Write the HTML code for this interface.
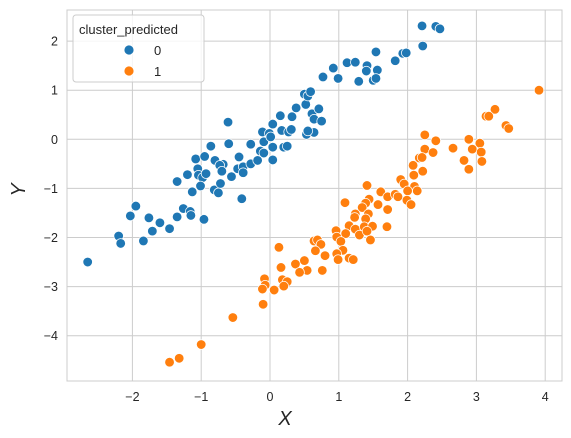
<!DOCTYPE html>
<html><head><meta charset="utf-8">
<style>
body{margin:0;background:#fff;}
svg{display:block;font-family:"Liberation Sans","DejaVu Sans",sans-serif;}
</style></head>
<body>
<svg id="chart" width="571" height="438" viewBox="0 0 571 438" xmlns="http://www.w3.org/2000/svg">
<rect x="0" y="0" width="571" height="438" fill="#fff"/>
<g id="grid"></g>
<rect x="67" y="10" width="495" height="371" fill="none" stroke="#cccccc" stroke-width="1"/>
<g id="ticks"></g>
<g id="points"></g>
<text x="285" y="425" font-size="20" font-style="italic" text-anchor="middle" fill="#262626">X</text>
<text x="0" y="0" font-size="20" font-style="italic" text-anchor="middle" fill="#262626" transform="translate(25,190) rotate(-90)">Y</text>
<g>
<rect x="73" y="15" width="131" height="67" rx="3" fill="#fff" fill-opacity="0.8" stroke="#cccccc"/>
<text x="79" y="34" font-size="13" fill="#262626">cluster_predicted</text>
<g><circle cx="129" cy="50" r="5" fill="#1f77b4" stroke="#fff" stroke-width="0.8"/><text x="154" y="55" font-size="13" fill="#262626">0</text></g>
<g><circle cx="129" cy="71" r="5" fill="#ff7f0e" stroke="#fff" stroke-width="0.8"/><text x="154" y="76" font-size="13" fill="#262626">1</text></g>
</g>
</svg>
<script>
const xTicks = [-2,-1,0,1,2,3,4];
const yTicks = [2,1,0,-1,-2,-3,-4];
const tickLabelsX = ["\u22122","\u22121","0","1","2","3","4"];
const tickLabelsY = ["2","1","0","\u22121","\u22122","\u22123","\u22124"];
const cluster0X = [-2.65,-2.2,-2.17,-1.95,-2.03,-1.84,-1.76,-1.71,-1.6,-1.46,-1.35,-1.26,-1.16,-1.15,-0.96,-1.35,-1.2,-1.13,-1.08,-1.05,-1.04,-0.98,-0.93,-1.01,-0.95,-0.86,-0.81,-0.75,-0.72,-0.8,-0.68,-0.73,-0.7,-0.56,-0.61,-0.6,-0.45,-0.47,-0.39,-0.39,-0.41,-0.28,-0.28,-0.18,-0.14,-0.09,-0.09,-0.11,-0.01,0.04,0.04,0.01,0.04,0.15,0.17,0.27,0.31,0.2,0.25,0.32,0.38,0.52,0.5,0.55,0.59,0.61,0.64,0.53,0.64,0.71,0.75,0.55,0.77,0.92,0.99,1.12,1.24,1.41,1.4,1.56,1.29,1.5,1.54,1.54,1.82,1.93,1.98,2.21,2.41,2.47,2.22];
const cluster0Y = [-2.5,-1.97,-2.12,-1.36,-1.56,-2.07,-1.6,-1.87,-1.7,-1.82,-1.58,-1.41,-1.47,-1.55,-1.63,-0.86,-0.72,-1.07,-0.4,-0.6,-0.73,-0.78,-0.7,-0.95,-0.35,-0.14,-1.03,-1.09,-0.9,-0.43,-0.51,-0.53,-0.65,-0.76,0.35,-0.09,-0.36,-0.6,-0.56,-0.68,-1.21,-0.1,-0.5,-0.43,-0.24,-0.28,-0.05,0.15,0.12,-0.16,-0.42,0.05,0.31,0.48,0.18,0.15,0.2,-0.16,-0.14,0.46,0.64,0.71,0.92,0.88,0.97,0.52,0.41,0.1,0.14,0.62,0.37,0.17,1.27,1.45,1.24,1.56,1.57,1.5,1.39,1.41,1.18,1.2,1.24,1.78,1.6,1.75,1.76,2.31,2.3,2.25,1.9];
const cluster1X = [3.91,3.27,3.14,3.18,3.43,3.47,2.25,2.41,2.89,3.05,2.66,2.94,2.25,2.37,3.07,2.17,2.21,2.82,3.08,2.08,2.89,2.22,2.09,1.9,1.95,1.41,2.1,2.14,2.0,1.61,1.71,1.82,1.86,1.99,2.05,1.09,1.44,1.39,1.34,1.57,1.71,1.24,1.23,1.43,1.39,1.15,1.24,1.37,1.49,1.7,0.96,1.1,1.3,1.41,0.97,1.03,1.46,0.64,0.69,0.74,0.66,1.06,0.8,0.97,0.99,1.15,1.21,0.76,0.37,0.5,0.54,0.43,0.13,0.16,0.18,0.25,-0.08,-0.07,-0.11,0.06,0.2,-0.1,-0.54,-1.0,-1.32,-1.46];
const cluster1Y = [1.0,0.61,0.47,0.47,0.28,0.22,0.09,-0.03,0.0,-0.08,-0.18,-0.2,-0.2,-0.27,-0.26,-0.38,-0.37,-0.43,-0.45,-0.53,-0.61,-0.65,-0.73,-0.82,-0.91,-0.94,-0.96,-1.05,-1.05,-1.07,-1.17,-1.12,-1.17,-1.24,-1.33,-1.29,-1.22,-1.3,-1.39,-1.33,-1.43,-1.52,-1.59,-1.52,-1.62,-1.76,-1.83,-1.78,-1.77,-1.78,-1.86,-1.92,-1.95,-1.87,-1.99,-2.08,-2.05,-2.07,-2.05,-2.14,-2.27,-2.26,-2.37,-2.33,-2.45,-2.42,-2.45,-2.67,-2.54,-2.47,-2.67,-2.71,-2.2,-2.61,-2.86,-2.9,-2.84,-2.97,-3.05,-3.07,-2.99,-3.36,-3.63,-4.18,-4.46,-4.54];

const NS = "http://www.w3.org/2000/svg";
function sx(v){ return 270 + v*68.8; }
function sy(v){ return 139.3 - v*49.1; }
const grid = document.getElementById('grid');
const ticks = document.getElementById('ticks');
xTicks.forEach((t,i)=>{
  const l = document.createElementNS(NS,'line');
  l.setAttribute('x1',sx(t)); l.setAttribute('x2',sx(t));
  l.setAttribute('y1',10); l.setAttribute('y2',381);
  l.setAttribute('stroke','#cccccc'); l.setAttribute('stroke-width','1');
  
  
  grid.appendChild(l);
  const tx = document.createElementNS(NS,'text');
  tx.setAttribute('x',sx(t)); tx.setAttribute('y',401);
  tx.setAttribute('font-size','12.5'); tx.setAttribute('fill','#262626');
  tx.setAttribute('text-anchor','middle');
  tx.textContent = tickLabelsX[i];
  
  
  ticks.appendChild(tx);
});
yTicks.forEach((t,i)=>{
  const l = document.createElementNS(NS,'line');
  l.setAttribute('x1',67); l.setAttribute('x2',562);
  l.setAttribute('y1',sy(t)); l.setAttribute('y2',sy(t));
  l.setAttribute('stroke','#cccccc'); l.setAttribute('stroke-width','1');
  
  
  grid.appendChild(l);
  const tx = document.createElementNS(NS,'text');
  tx.setAttribute('x',58); tx.setAttribute('y',sy(t)+4.5);
  tx.setAttribute('font-size','12.5'); tx.setAttribute('fill','#262626');
  tx.setAttribute('text-anchor','end');
  tx.textContent = tickLabelsY[i];
  
  
  ticks.appendChild(tx);
});
const pts = document.getElementById('points');
function drawSeries(xs, ys, color, name){
  xs.forEach((x,i)=>{
    const c = document.createElementNS(NS,'circle');
    c.setAttribute('cx',sx(x)); c.setAttribute('cy',sy(ys[i]));
    c.setAttribute('r','4.8'); c.setAttribute('fill',color);
    c.setAttribute('stroke','#fff'); c.setAttribute('stroke-width','0.75');
    
    
    pts.appendChild(c);
  });
}
drawSeries(cluster0X, cluster0Y, '#1f77b4', 'point-cluster-0');
drawSeries(cluster1X, cluster1Y, '#ff7f0e', 'point-cluster-1');
</script>
</body></html>
